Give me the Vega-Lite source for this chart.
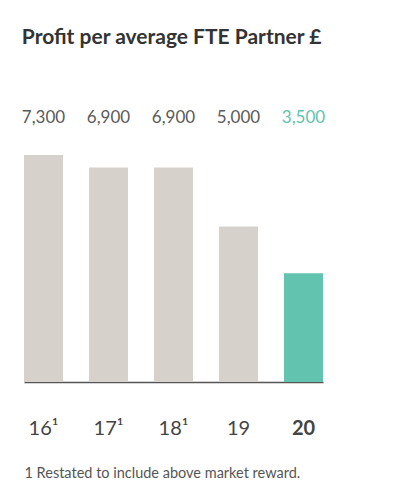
{
  "$schema": "https://vega.github.io/schema/vega-lite/v6.json",
  "autosize": "none",
  "width": 299,
  "height": 227,
  "padding": {"left": 24, "top": 155, "right": 94, "bottom": 98},
  "background": "white",
  "config": {"view": {"stroke": null}, "font": "Lato"},
  "title": {
    "text": "Profit per average FTE Partner £",
    "anchor": "start",
    "fontSize": 21,
    "fontWeight": "bold",
    "color": "#333333",
    "font": "Lato",
    "offset": 61
  },
  "data": {
    "values": [
      {"year": "16¹", "value": 7300, "label": "7,300", "current": false},
      {"year": "17¹", "value": 6900, "label": "6,900", "current": false},
      {"year": "18¹", "value": 6900, "label": "6,900", "current": false},
      {"year": "19", "value": 5000, "label": "5,000", "current": false},
      {"year": "20", "value": 3500, "label": "3,500", "current": true}
    ]
  },
  "encoding": {
    "x": {
      "field": "year",
      "type": "nominal",
      "sort": null,
      "scale": {"paddingInner": 0.4, "paddingOuter": 0},
      "axis": {
        "title": "1 Restated to include above market reward.",
        "titleAnchor": "start",
        "titleAlign": "left",
        "titleFontSize": 14.5,
        "titleFontWeight": "normal",
        "titleColor": "#555555",
        "titleFont": "Lato",
        "titlePadding": 28,
        "labelAngle": 0,
        "labelFontSize": 20,
        "labelColor": "#444444",
        "labelFont": "Lato",
        "labelPadding": 36,
        "labelFontWeight": {"condition": {"test": "datum.value === '20'", "value": "bold"}, "value": "normal"},
        "ticks": false,
        "domainColor": "#555555",
        "domainWidth": 1.5
      }
    }
  },
  "layer": [
    {
      "mark": {"type": "bar"},
      "encoding": {
        "y": {"field": "value", "type": "quantitative", "scale": {"domain": [0, 7300], "nice": false}, "axis": null},
        "color": {
          "field": "current",
          "type": "nominal",
          "scale": {"domain": [false, true], "range": ["#d7d1cb", "#62c4ae"]},
          "legend": null
        }
      }
    },
    {
      "mark": {"type": "text", "fontSize": 17, "font": "Lato", "baseline": "alphabetic"},
      "encoding": {
        "y": {"datum": 8330, "type": "quantitative"},
        "text": {"field": "label"},
        "color": {"condition": {"test": "datum.current", "value": "#5fc4ae"}, "value": "#5a5a5a"}
      }
    }
  ]
}
